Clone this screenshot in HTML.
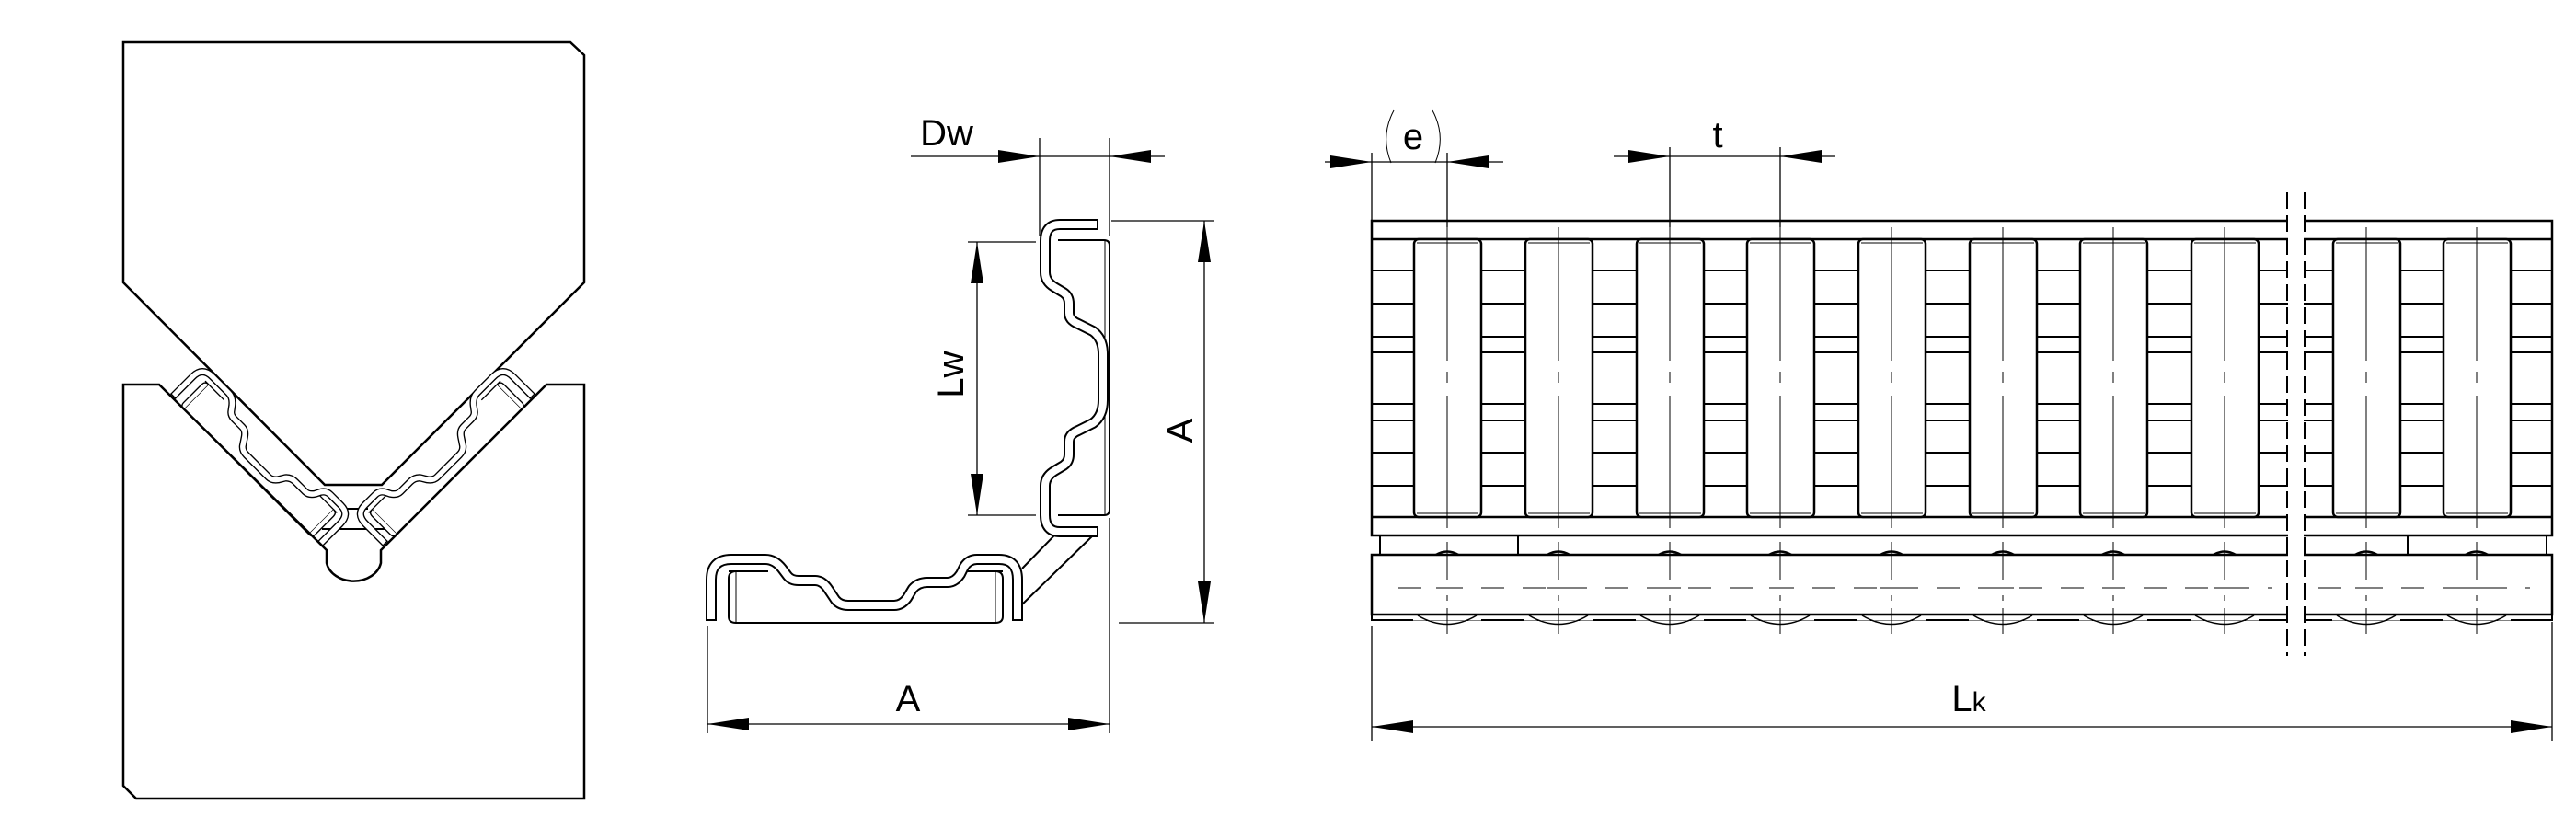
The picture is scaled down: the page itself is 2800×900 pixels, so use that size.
<!DOCTYPE html>
<html><head><meta charset="utf-8"><style>html,body{margin:0;padding:0;background:#fff}svg{display:block}text{font-family:"Liberation Sans",sans-serif;fill:#000}</style></head><body>
<svg width="2800" height="900" viewBox="0 0 2800 900" xmlns="http://www.w3.org/2000/svg">
<defs>
<g id="strip">
<path id="hpc" d="M773 674 L773 630 Q773 608 795 608 L832 608 Q842 608 850 618 L856 626 Q860 631 868 631 L886 631 Q894 631 900 640 L908 652 Q913 658 922 658 L972 658 Q980 658 986 650 L992 640 Q998 633 1008 633 L1030 633 Q1038 633 1044 624 L1048 616 Q1053 608 1062 608 L1086 608 Q1106 608 1106 630 L1106 674" fill="none" stroke="#000" stroke-width="12" stroke-linejoin="round"/>
<path d="M773 674 L773 630 Q773 608 795 608 L832 608 Q842 608 850 618 L856 626 Q860 631 868 631 L886 631 Q894 631 900 640 L908 652 Q913 658 922 658 L972 658 Q980 658 986 650 L992 640 Q998 633 1008 633 L1030 633 Q1038 633 1044 624 L1048 616 Q1053 608 1062 608 L1086 608 Q1106 608 1106 630 L1106 674" fill="none" stroke="#fff" stroke-width="8" stroke-linejoin="round"/>
</g>
<g id="hp" fill="none" stroke="#000">
<path d="M800 621 Q792 621 792 629 L792 670 Q792 677 800 677 L1082 677 Q1090 677 1090 670 L1090 629 Q1090 621 1082 621" stroke-width="2"/>
<path d="M800 622 V676 M1082 622 V676" stroke-width="1"/>
<path d="M792 621 H835 M1050 621 H1090" stroke-width="2"/>
<use href="#strip"/>
<path d="M767 674 H779 M1100 674 H1112" stroke-width="2"/>
</g>
<g id="roller" fill="none" stroke="#000">
<rect x="-36" y="260" width="73" height="302" rx="5" fill="#fff" stroke-width="2.5"/>
<path d="M-33 264 H34 M-33 558 H34" stroke-width="1"/>
<rect x="-37" y="669.5" width="74" height="5" fill="#fff" stroke="none"/>
<path d="M-32 669 Q0 688 32 669" stroke-width="1.5"/>
<path d="M-12 603 Q0 596 12 603" stroke-width="2.5"/>
<path d="M0 247V392 M0 404V416 M0 430V574 M0 589V630 M0 647V653 M0 661V689 M-12 639H12" stroke-width="1"/>
</g>
</defs>

<!-- LEFT VIEW -->
<g fill="none" stroke="#000" stroke-width="2.5" stroke-linejoin="miter">
<path d="M134 46 L620 46 L635 60 L635 307 L415 527 L353 527 L134 307 Z"/>
<path d="M173 418 L134 418 L134 854 L148 868 L635 868 L635 418 L594 418 L414 598 L414 612 A30 24 0 0 1 355 612 L355 598 Z"/>
<path d="M370 553 H400 M350 575 H418" stroke-width="2"/>
</g>
<g id="larm" transform="translate(185,430) rotate(45) scale(0.68) translate(-769,-677)">
<use href="#hp"/>
</g>
<g transform="translate(767,0) scale(-1,1)">
<g transform="translate(185,430) rotate(45) scale(0.68) translate(-769,-677)"><use href="#hp"/></g>
</g>

<!-- MIDDLE VIEW -->
<g fill="none" stroke="#000">
<use href="#hp"/>
<path d="M1150 261 H1200 Q1206 261 1206 267 L1206 554 Q1206 560 1200 560 H1150" stroke-width="2"/>
<path d="M1201 262 V559" stroke-width="1"/>
<path d="M1193 244 L1152 244 Q1136 244 1136 262 L1136 296 Q1136 306 1146 312 L1156 318 Q1162 322 1162 330 L1162 340 Q1162 348 1172 352 L1188 360 Q1199 368 1199 385 L1199 435 Q1199 452 1188 460 L1172 468 Q1162 472 1162 480 L1162 494 Q1162 502 1156 506 L1146 512 Q1136 518 1136 528 L1136 560 Q1136 578 1152 578 L1193 578" stroke-width="12" stroke-linejoin="round"/>
<path d="M1193 244 L1152 244 Q1136 244 1136 262 L1136 296 Q1136 306 1146 312 L1156 318 Q1162 322 1162 330 L1162 340 Q1162 348 1172 352 L1188 360 Q1199 368 1199 385 L1199 435 Q1199 452 1188 460 L1172 468 Q1162 472 1162 480 L1162 494 Q1162 502 1156 506 L1146 512 Q1136 518 1136 528 L1136 560 Q1136 578 1152 578 L1193 578" stroke="#fff" stroke-width="8" stroke-linejoin="round"/>
<path d="M1193 238 V250 M1193 572 V584" stroke-width="2"/>
<path d="M1111 618 L1146 582 M1111 657 L1188 582" stroke-width="2"/>
<!-- dims -->
<g stroke-width="1.3">
<path d="M990 170 H1266"/>
<path d="M1130 150 V256 M1206 150 V256"/>
<path d="M1052 263 H1126 M1052 560 H1126"/>
<path d="M1062 263 V560"/>
<path d="M1208 240 H1320 M1216 677 H1320"/>
<path d="M1309 240 V677"/>
<path d="M1206 563 V797 M769 680 V797"/>
<path d="M769 787 H1206"/>
</g>
</g>
<g fill="#000">
<polygon points="1130,170 1085,163 1085,177"/>
<polygon points="1206,170 1251,163 1251,177"/>
<polygon points="1062,263 1055,308 1069,308"/>
<polygon points="1062,560 1055,515 1069,515"/>
<polygon points="1309,240 1302,285 1316,285"/>
<polygon points="1309,677 1302,632 1316,632"/>
<polygon points="769,787 814,780 814,794"/>
<polygon points="1206,787 1161,780 1161,794"/>
</g>
<text x="1029" y="158" font-size="40" text-anchor="middle">Dw</text>
<text transform="translate(1047,407) rotate(-90)" font-size="40" text-anchor="middle">Lw</text>
<text transform="translate(1296,468) rotate(-90)" font-size="40" text-anchor="middle">A</text>
<text x="987" y="773" font-size="40" text-anchor="middle">A</text>

<!-- RIGHT VIEW -->
<g fill="none" stroke="#000">
<path d="M1491 294 H2774 M1491 330 H2774 M1491 366 H2774 M1491 383 H2774 M1491 439 H2774 M1491 457 H2774 M1491 492 H2774 M1491 528 H2774" stroke-width="2"/>
<rect x="1491" y="240" width="1283" height="342" stroke-width="2.5"/>
<path d="M1491 260 H2774 M1491 562 H2774" stroke-width="2.5"/>
<path d="M1500 582 V603 M1650 582 V603 M2617 582 V603 M2768 582 V603" stroke-width="2"/>
<rect x="1491" y="668" width="1283" height="6" stroke-width="2"/>
<rect x="1491" y="603" width="1283" height="65" stroke-width="2.5"/>
<path d="M1520 639 H2470 M2520 639 H2750" stroke-width="1" stroke-dasharray="25 20"/>
</g>
<use href="#roller" x="1573"/><use href="#roller" x="1694"/><use href="#roller" x="1815"/><use href="#roller" x="1935"/><use href="#roller" x="2056"/><use href="#roller" x="2177"/><use href="#roller" x="2297"/><use href="#roller" x="2418"/><use href="#roller" x="2572"/><use href="#roller" x="2692"/>
<rect x="2487" y="230" width="17" height="460" fill="#fff"/>
<path d="M2486 209 V713 M2505 209 V713" stroke="#000" stroke-width="2" stroke-dasharray="18 7" fill="none"/>
<g fill="none" stroke="#000" stroke-width="1.3">
<path d="M1440 176 H1634 M1491 166 V240 M1573 166 V247"/>
<path d="M1754 170 H1995 M1815 160 V247 M1935 160 V247"/>
<path d="M1491 680 V805 M2774 676 V805 M1491 790 H2774"/>
<path d="M1515 120 Q1500 148 1512 177 M1557 120 Q1572 148 1560 177" stroke-width="1"/>
</g>
<g fill="#000">
<polygon points="1491,176 1446,169 1446,183"/>
<polygon points="1573,176 1618,169 1618,183"/>
<polygon points="1815,170 1770,163 1770,177"/>
<polygon points="1935,170 1980,163 1980,177"/>
<polygon points="1491,790 1536,783 1536,797"/>
<polygon points="2774,790 2729,783 2729,797"/>
</g>
<text x="1536" y="162" font-size="40" text-anchor="middle">e</text>
<text x="1867" y="160" font-size="40" text-anchor="middle">t</text>
<text x="2140" y="773" font-size="40" text-anchor="middle">L<tspan font-size="30">k</tspan></text>
</svg>
</body></html>
